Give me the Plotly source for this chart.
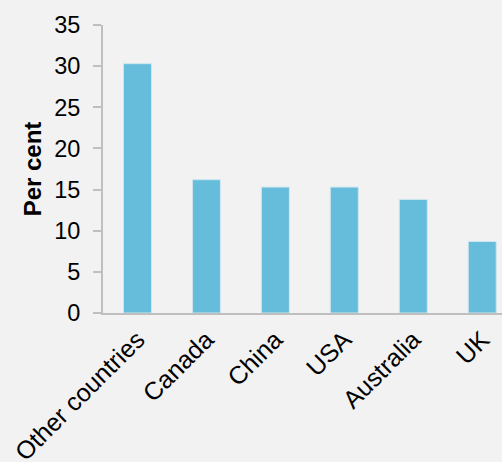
import plotly.graph_objects as go

categories = ["Other countries", "Canada", "China", "USA", "Australia", "UK"]
values = [30.3, 16.2, 15.3, 15.3, 13.8, 8.7]
y_ticks = [0, 5, 10, 15, 20, 25, 30, 35]

fig = go.Figure(go.Bar(
    x=categories, y=values,
    marker=dict(color="#66bcdb", line=dict(color="#cfe6ef", width=1)),
))

fig.update_layout(
    width=502, height=462,
    paper_bgcolor="#f2f2f2", plot_bgcolor="#f2f2f2",
    margin=dict(l=103, r=0, t=25, b=149, autoexpand=False),
    bargap=0.594,
    font=dict(family="Liberation Sans, Arial, sans-serif", size=23, color="#000000"),
    showlegend=False,
)
fig.update_xaxes(
    range=[-0.5, 5.287], showgrid=False, showline=True, linecolor="#bfbfbf", linewidth=2,
    ticks="", tickangle=-45, tickfont=dict(size=25), automargin=False,
)
fig.update_yaxes(
    range=[0, 35], tickvals=y_ticks, showgrid=False, zeroline=False,
    showline=True, linecolor="#bfbfbf", linewidth=2,
    ticks="outside", ticklen=8, tickcolor="#bfbfbf", tickwidth=2,
    ticklabelstandoff=8, tickfont=dict(size=23.5), automargin=False,
    title=dict(text="<b>Per cent</b>", font=dict(size=24), standoff=6),
)

fig.write_html(
    "out.html",
    config={"displayModeBar": False},
    post_script="document.body.style.margin='0';document.body.style.background='#f2f2f2';",
)
